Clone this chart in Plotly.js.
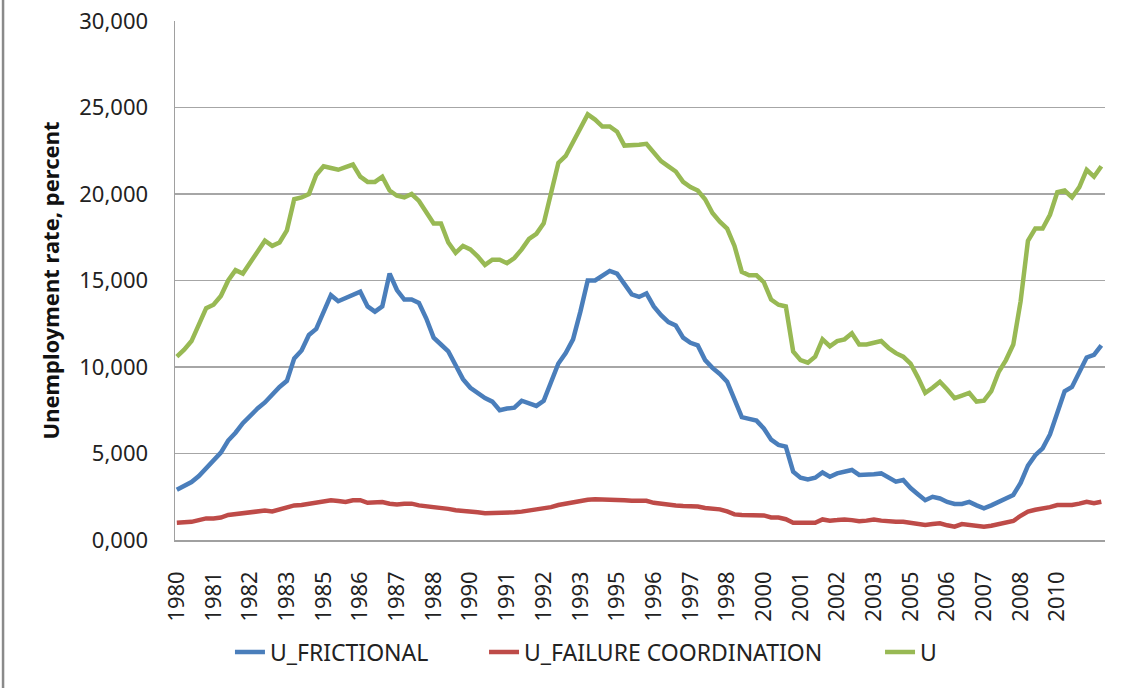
<!DOCTYPE html>
<html>
<head>
<meta charset="utf-8">
<script src="https://cdn.plot.ly/plotly-3.0.1.min.js"></script>
<style>
  html, body { margin: 0; padding: 0; background: #ffffff; }
  #chart { width: 1129px; height: 688px; }
</style>
</head>
<body>
<div id="chart"></div>
<script>
// Quarterly data, 1980Q1 onward (127 quarters)
const tickLabels = ["1980","1981","1982","1983","1985","1986","1987","1988","1990","1991","1992","1993","1995","1996","1997","1998","2000","2001","2002","2003","2005","2006","2007","2008","2010"];
const tickStep = 5;

const uFrictional = [
  2.9, 3.15, 3.35, 3.7, 4.15, 4.55, 5.05, 5.75, 6.2, 6.75,
  7.2, 7.6, 7.95, 8.45, 8.85, 9.2, 10.5, 10.95, 11.85, 12.2,
  13.2, 14.15, 13.8, 14.0, 14.2, 14.35, 13.5, 13.2, 13.5, 15.4,
  14.45, 13.9, 13.9, 13.7, 12.8, 11.7, 11.3, 10.9, 10.1, 9.3,
  8.8, 8.5, 8.2, 8.0, 7.5, 7.6, 7.65, 8.05, 7.9, 7.75,
  8.05, 9.1, 10.2, 10.8, 11.6, 13.2, 15.0, 15.0, 15.3, 15.55,
  15.4, 14.8, 14.2, 14.05, 14.25, 13.5, 13.0, 12.6, 12.4, 11.7,
  11.4, 11.25, 10.4, 9.95, 9.6, 9.15, 8.2, 7.1, 7.0, 6.9,
  6.45, 5.8, 5.5, 5.4, 3.95, 3.6, 3.5, 3.6, 3.9, 3.66,
  3.85, 3.95, 4.05, 3.76, 3.76, 3.8, 3.85, 3.62, 3.37, 3.47,
  3.0, 2.65, 2.3, 2.5, 2.4, 2.2, 2.08, 2.08, 2.2, 2.0,
  1.83, 2.0, 2.2, 2.35, 2.6, 3.3, 4.3, 4.9, 5.3, 6.1,
  7.3, 8.6, 8.85, 9.7, 10.55, 10.7, 11.25
];

const uFailureCoordination = [
  1.0, 1.0, 1.05, 1.15, 1.25, 1.25, 1.3, 1.45, 1.5, 1.5,
  1.55, 1.6, 1.7, 1.65, 1.75, 1.85, 2.0, 2.02, 2.08, 2.15,
  2.2, 2.3, 2.25, 2.2, 2.3, 2.3, 2.15, 2.2, 2.2, 2.1,
  2.05, 2.1, 2.1, 2.0, 1.95, 1.9, 1.9, 1.8, 1.72, 1.7,
  1.68, 1.6, 1.55, 1.55, 1.55, 1.55, 1.6, 1.64, 1.7, 1.75,
  1.78, 1.9, 2.02, 2.1, 2.2, 2.28, 2.33, 2.35, 2.35, 2.35,
  2.35, 2.3, 2.27, 2.27, 2.27, 2.15, 2.12, 2.05, 2.0, 1.96,
  1.96, 1.93, 1.85, 1.8, 1.77, 1.65, 1.48, 1.45, 1.45, 1.45,
  1.42, 1.3, 1.3, 1.2, 1.0, 1.0, 1.0, 1.0, 1.19, 1.12,
  1.15, 1.19, 1.15, 1.08, 1.12, 1.19, 1.12, 1.06, 1.06, 1.06,
  1.0, 0.93, 0.87, 0.92, 0.97, 0.85, 0.77, 0.92, 0.85, 0.8,
  0.77, 0.82, 0.9, 1.0, 1.1, 1.4, 1.64, 1.75, 1.8, 1.9,
  2.02, 2.02, 2.02, 2.1, 2.21, 2.12, 2.21
];

const uTotal = [
  10.6, 11.0, 11.5, 12.5, 13.4, 13.6, 14.1, 15.0, 15.6, 15.4,
  16.0, 16.6, 17.3, 17.0, 17.2, 17.9, 19.7, 19.8, 20.0, 21.1,
  21.6, 21.5, 21.4, 21.55, 21.7, 21.0, 20.7, 20.7, 21.0, 20.2,
  19.9, 19.8, 20.0, 19.6, 18.9, 18.3, 18.3, 17.2, 16.6, 17.0,
  16.8, 16.4, 15.9, 16.2, 16.2, 16.0, 16.3, 16.8, 17.4, 17.7,
  18.3, 20.0, 21.8, 22.2, 23.0, 23.8, 24.6, 24.3, 23.9, 23.9,
  23.6, 22.8, 22.8, 22.85, 22.9, 22.4, 21.9, 21.6, 21.3, 20.7,
  20.4, 20.2, 19.7, 18.9, 18.4, 18.0, 17.0, 15.5, 15.3, 15.3,
  14.9, 13.9, 13.6, 13.5, 10.9, 10.4, 10.25, 10.6, 11.6, 11.2,
  11.5, 11.6, 11.95, 11.3, 11.3, 11.4, 11.5, 11.1, 10.8, 10.6,
  10.2, 9.4, 8.5, 8.8, 9.15, 8.7, 8.2, 8.35, 8.5, 8.0,
  8.05, 8.6, 9.7, 10.4, 11.3, 13.8, 17.3, 18.0, 18.0, 18.8,
  20.1, 20.2, 19.8, 20.4, 21.4, 21.0, 21.6
];

const yTickValues = [0, 5, 10, 15, 20, 25, 30];
const yTickLabels = ["0,000", "5,000", "10,000", "15,000", "20,000", "25,000", "30,000"];

const xIdx = uTotal.map((_, i) => i);
const xTickVals = tickLabels.map((_, i) => i * tickStep);

const FONT = "Noto Sans, Open Sans, sans-serif";

const traces = [
  { x: xIdx, y: uFrictional, name: "U_FRICTIONAL", type: "scatter", mode: "lines",
    line: { color: "#4A7EBB", width: 4.5 }, legend: "legend" },
  { x: xIdx, y: uFailureCoordination, name: "U_FAILURE COORDINATION", type: "scatter", mode: "lines",
    line: { color: "#BE4B48", width: 4.5 }, legend: "legend2" },
  { x: xIdx, y: uTotal, name: "U", type: "scatter", mode: "lines",
    line: { color: "#98B954", width: 4.5 }, legend: "legend3" }
];

const legendBase = {
  orientation: "h", xanchor: "left", y: -0.216, yanchor: "middle",
  font: { family: FONT, size: 23, color: "#222222" },
  bgcolor: "rgba(0,0,0,0)", borderwidth: 0
};

const layout = {
  width: 1129, height: 688,
  paper_bgcolor: "#ffffff", plot_bgcolor: "#ffffff",
  margin: { l: 175, r: 24, t: 21, b: 148 },
  font: { family: FONT, color: "#222222" },
  showlegend: true,
  legend: Object.assign({}, legendBase, { x: 0.0591 }),
  legend2: Object.assign({}, legendBase, { x: 0.3323 }),
  legend3: Object.assign({}, legendBase, { x: 0.7581 }),
  xaxis: {
    range: [-0.25, 126.5],
    tickmode: "array", tickvals: xTickVals, ticktext: tickLabels,
    tickangle: -90,
    tickfont: { family: FONT, size: 22, color: "#222222" },
    ticks: "", ticklabelstandoff: 21,
    showgrid: false, zeroline: false,
    showline: true, linecolor: "#a0a0a0", linewidth: 1.5,
    fixedrange: true
  },
  yaxis: {
    range: [0, 30],
    tickmode: "array", tickvals: yTickValues, ticktext: yTickLabels,
    tickfont: { family: FONT, size: 22, color: "#222222" },
    ticks: "", ticklabelstandoff: 21,
    showgrid: true, gridcolor: "#a6a6a6", gridwidth: 1.5,
    zeroline: false,
    showline: true, linecolor: "#a0a0a0", linewidth: 1.5,
    title: { text: "<b>Unemployment rate, percent</b>", font: { family: FONT, size: 22, color: "#111111" }, standoff: 13 },
    fixedrange: true
  },
  shapes: [
    { type: "line", xref: "paper", yref: "paper", x0: -0.1849, x1: -0.1849, y0: -0.3, y1: 1.06,
      line: { color: "#8a8a8a", width: 2.5 } }
  ]
};

Plotly.newPlot("chart", traces, layout, { displayModeBar: false, staticPlot: true });
</script>
</body>
</html>
